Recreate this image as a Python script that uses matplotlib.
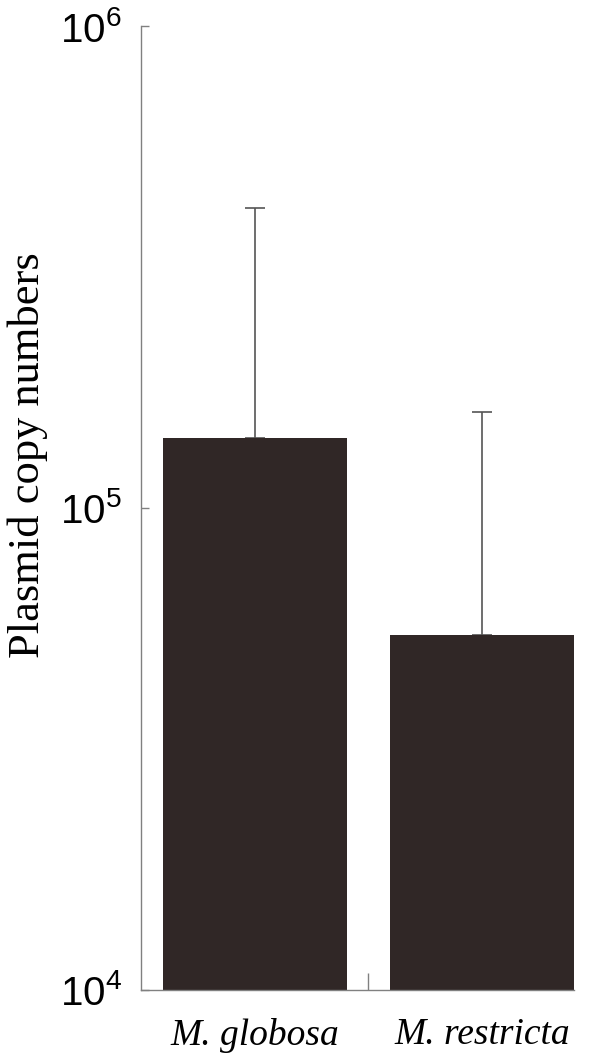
import matplotlib.pyplot as plt
import matplotlib.ticker as mticker

# données
especes = ["M. globosa", "M. restricta"]
copies = [1.40e5, 5.46e4]          # hauteur des barres
erreur_haute = [4.19e5, 1.58e5]    # sommet des barres d'erreur
yticks = [1e4, 1e5, 1e6]
ytick_labels = ["10$^4$", "10$^5$", "10$^6$"]

plt.rcParams['mathtext.fontset'] = 'custom'
plt.rcParams['mathtext.rm'] = 'Liberation Sans'
plt.rcParams['mathtext.it'] = 'Liberation Sans'

fig = plt.figure(figsize=(5.93, 10.57), dpi=100)
ax = fig.add_axes([0.2378, 0.0634, 0.968 - 0.2378, 0.9754 - 0.0634])

x = list(range(len(especes)))
err = [[0] * len(copies), [h - c for h, c in zip(erreur_haute, copies)]]
ax.bar(x, copies, width=0.807, color="#302726", zorder=2)
ax.errorbar(x, copies, yerr=err, fmt="none", ecolor="#555555", elinewidth=1.2,
            capsize=7, capthick=1.2, zorder=1)

ax.set_yscale("log")
ax.set_ylim(1e4, 1e6)
ax.set_xlim(-0.5, 1.4035)
ax.yaxis.set_minor_locator(mticker.NullLocator())
ax.set_yticks(yticks)
ax.set_yticklabels(ytick_labels, fontsize=29, family="Liberation Sans")
ax.tick_params(axis="y", direction="in", length=6, width=1, color="#808080", pad=14)

# étiquettes des espèces sous les barres, petit trait entre les barres
ax.set_xticks(x)
ax.set_xticklabels(especes, fontsize=27, family="Liberation Serif", style="italic")
ax.tick_params(axis="x", length=0, pad=20)
ax.set_xticks([0.5], minor=True)
ax.tick_params(axis="x", which="minor", direction="in", length=12, width=1, color="#808080")

for s in ["top", "right"]:
    ax.spines[s].set_visible(False)
for s in ["left", "bottom"]:
    ax.spines[s].set_color("#808080")
    ax.spines[s].set_linewidth(1)

# titre de l'axe y, un peu au-dessus du centre comme sur l'original
fig.text(28 / 593, 1 - 455 / 1057, "Plasmid copy numbers", fontsize=32,
         family="Liberation Serif", rotation=90, ha="center", va="center")

fig.savefig("out.png", dpi=100)
